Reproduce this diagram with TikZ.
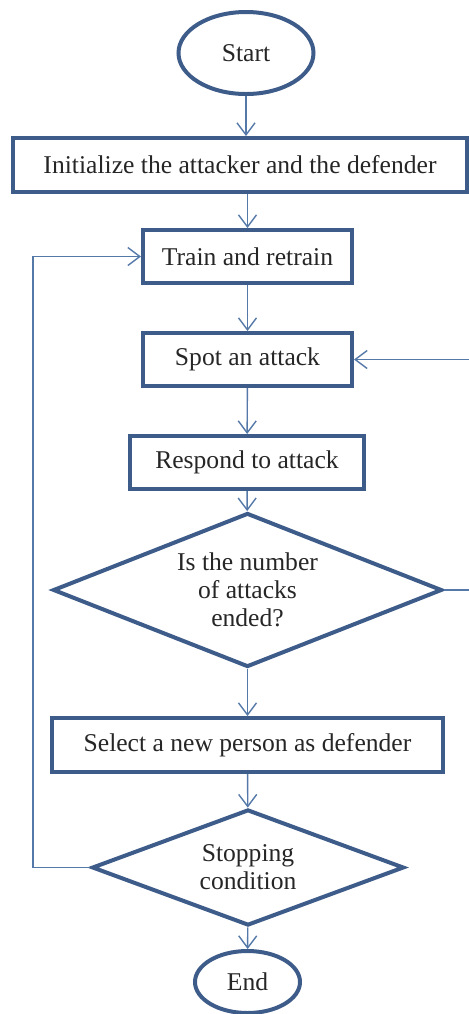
\documentclass[tikz,border=0pt]{standalone}
\usepackage{fontspec}
\setmainfont{Liberation Serif}
\usepackage{tikz}
\usetikzlibrary{arrows.meta,shapes.geometric}
\definecolor{boxblue}{RGB}{62,92,138}
\definecolor{lineblue}{RGB}{84,120,168}

\begin{document}
\begin{tikzpicture}[x=0.5pt, y=-0.5pt, >={Straight Barb[length=6pt,width=9pt]},
    every node/.style={font=\fontsize{12.8}{14}\selectfont, text=black!85},
    process/.style={draw=boxblue, line width=2pt, rectangle, inner sep=0pt, minimum height=27pt},
    decision/.style={draw=boxblue, line width=2pt, diamond, inner sep=0pt, align=center},
    terminal/.style={draw=boxblue, line width=2pt, ellipse, inner sep=0pt},
    flow/.style={->, lineblue, line width=0.7pt}]
    \useasboundingbox (0,0) rectangle (469,1014);

    % Steps of the flow chart
    \node[terminal, minimum width=67.5pt, minimum height=41pt] (start) at (246,53) {Start};
    \node[process, minimum width=227pt] (init) at (240,165) {Initialize the attacker and the defender};
    \node[process, minimum width=104.5pt, minimum height=26.5pt] (train) at (247.5,256.5) {Train and retrain};
    \node[process, minimum width=104.5pt, minimum height=26.5pt] (spot) at (247.5,359.5) {Spot an attack};
    \node[process, minimum width=117pt, minimum height=26.5pt] (respond) at (247,462.5) {Respond to attack};
    \node[decision, aspect=2.53, minimum width=194.5pt, minimum height=77pt] (ended) at (247.5,590) {Is the number\\of attacks\\ended?};
    \node[process, minimum width=195.5pt] (select) at (247.5,745) {Select a new person as defender};
    \node[decision, aspect=2.69, minimum width=156pt, minimum height=58pt] (stop) at (248,867.5) {Stopping\\condition};
    \node[terminal, minimum width=52.5pt, minimum height=31pt] (end) at (247.5,982) {End};

    % Corners of the two loops
    \coordinate (loopL) at (33,867.5);
    \coordinate (loopR) at (473,590);

    % Connectors
    \draw[flow] (start) -- (start |- init.north);
    \draw[flow] (train |- init.south) -- (train);
    \draw[flow] (train) -- (spot);
    \draw[flow] (spot) -- (respond);
    \draw[flow] (respond) -- (ended);
    \draw[flow] (ended) -- (select);
    \draw[flow] (select) -- (stop);
    \draw[flow] (stop) -- (end);
    \draw[flow] (ended.east) -- (loopR) |- (spot.east);
    \draw[flow] (stop.west) -- (loopL) |- (train.west);
\end{tikzpicture}
\end{document}
